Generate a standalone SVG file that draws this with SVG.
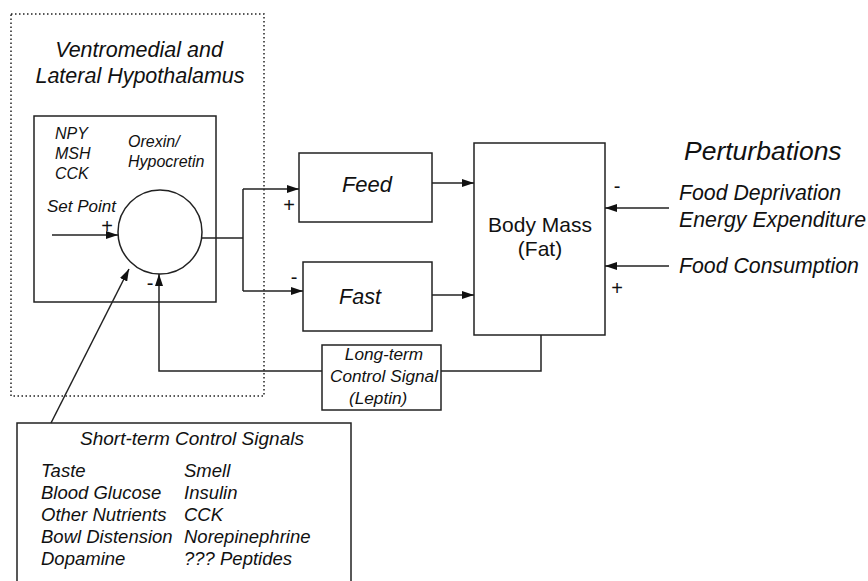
<svg xmlns="http://www.w3.org/2000/svg" width="868" height="581" viewBox="0 0 868 581">
<style>
.box{fill:#fff;stroke:#222;stroke-width:1.5}
.ln{fill:none;stroke:#222;stroke-width:1.5}
.t{font-family:"Liberation Sans",Arial,sans-serif;fill:#111}
.i{font-style:italic}
.s{font-family:"Liberation Sans",Arial,sans-serif;fill:#111;font-size:20px;text-anchor:middle}
</style>
<defs>
<marker id="ah" viewBox="0 0 12 8" refX="12" refY="4" markerWidth="12" markerHeight="8" markerUnits="userSpaceOnUse" orient="auto">
<path d="M0,0 L12,4 L0,8 Z" fill="#111"/>
</marker>
</defs>
<rect width="868" height="581" fill="#fff"/>

<g id="hypothalamus">
<rect x="11" y="14" width="253" height="382" fill="none" stroke="#222" stroke-width="1.5" stroke-dasharray="1.5,2.5"/>
<text class="t i" x="139" y="57" font-size="21.5" text-anchor="middle">Ventromedial and</text>
<text class="t i" x="140" y="83" font-size="21.5" text-anchor="middle">Lateral Hypothalamus</text>
</g>

<g id="comparator-box">
<rect class="box" x="34" y="116" width="182" height="186"/>
<text class="t i" x="55" y="139" font-size="16">NPY</text>
<text class="t i" x="55" y="159" font-size="16">MSH</text>
<text class="t i" x="55" y="179" font-size="16">CCK</text>
<text class="t i" x="128" y="147" font-size="16">Orexin/</text>
<text class="t i" x="128" y="167" font-size="16">Hypocretin</text>
<text class="t i" x="47" y="212" font-size="17">Set Point</text>
<text class="s" x="107" y="233">+</text>
<text class="s" x="150" y="290">-</text>
</g>

<g id="summer">
<circle class="box" cx="160" cy="232" r="42"/>
</g>

<g id="feed">
<rect class="box" x="299" y="153" width="133" height="69"/>
<text class="t i" x="367" y="192" font-size="22" text-anchor="middle">Feed</text>
</g>

<g id="fast">
<rect class="box" x="303" y="262" width="129" height="69"/>
<text class="t i" x="360" y="304" font-size="21.5" text-anchor="middle">Fast</text>
</g>

<g id="body-mass">
<rect class="box" x="474" y="143" width="131" height="192"/>
<text class="t" x="540" y="232" font-size="21" text-anchor="middle">Body Mass</text>
<text class="t" x="540" y="256" font-size="21" text-anchor="middle">(Fat)</text>
</g>

<g id="leptin">
<rect class="box" x="322" y="345" width="119" height="65"/>
<text class="t i" x="384" y="360" font-size="17.2" text-anchor="middle">Long-term</text>
<text class="t i" x="384" y="382" font-size="17.2" text-anchor="middle">Control Signal</text>
<text class="t i" x="349" y="404" font-size="17.2">(Leptin)</text>
</g>

<g id="short-term">
<rect class="box" x="17" y="423" width="334" height="170"/>
<text class="t i" x="192" y="445" font-size="19" text-anchor="middle">Short-term Control Signals</text>
<g class="t i" font-size="18.5">
<text x="41" y="477">Taste</text>
<text x="41" y="499">Blood Glucose</text>
<text x="41" y="521">Other Nutrients</text>
<text x="41" y="543">Bowl Distension</text>
<text x="41" y="565">Dopamine</text>
<text x="184" y="477">Smell</text>
<text x="184" y="499">Insulin</text>
<text x="184" y="521">CCK</text>
<text x="184" y="543">Norepinephrine</text>
<text x="184" y="565">??? Peptides</text>
</g>
</g>

<g id="perturbations">
<text class="t i" x="684" y="160" font-size="26.5">Perturbations</text>
<text class="t i" x="679" y="200" font-size="21.3">Food Deprivation</text>
<text class="t i" x="679" y="227" font-size="21.3">Energy Expenditure</text>
<text class="t i" x="679" y="273" font-size="21.3">Food Consumption</text>
<text class="s" x="617" y="193">-</text>
<text class="s" x="617" y="295">+</text>
</g>

<g id="connectors">
<line class="ln" x1="52" y1="235" x2="118" y2="235" marker-end="url(#ah)"/>
<polyline class="ln" points="202,238 243,238"/>
<polyline class="ln" points="243,189 243,291"/>
<line class="ln" x1="243" y1="189" x2="299" y2="189" marker-end="url(#ah)"/>
<line class="ln" x1="243" y1="291" x2="303" y2="291" marker-end="url(#ah)"/>
<text class="s" x="289" y="212">+</text>
<text class="s" x="294" y="284">-</text>
<line class="ln" x1="432" y1="183" x2="474" y2="183" marker-end="url(#ah)"/>
<line class="ln" x1="432" y1="295" x2="474" y2="295" marker-end="url(#ah)"/>
<polyline class="ln" points="441,371 541,371 541,335"/>
<polyline class="ln" points="322,371 159,371 159,274" marker-end="url(#ah)"/>
<line class="ln" x1="51" y1="423" x2="129" y2="269" marker-end="url(#ah)"/>
<line class="ln" x1="669" y1="208" x2="605" y2="208" marker-end="url(#ah)"/>
<line class="ln" x1="669" y1="266" x2="605" y2="266" marker-end="url(#ah)"/>
</g>
</svg>
